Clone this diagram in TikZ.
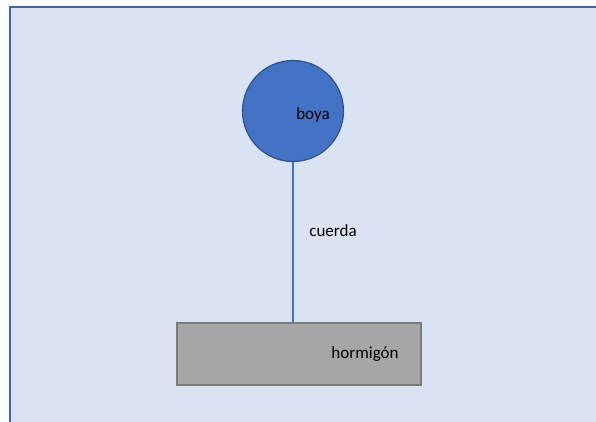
\documentclass[tikz,border=0pt]{standalone}
\usepackage{fontspec}
\setmainfont{Carlito}
\definecolor{bgfill}{HTML}{DAE3F3}
\definecolor{bgline}{HTML}{41639F}
\definecolor{buoyfill}{HTML}{4472C4}
\definecolor{buoyline}{HTML}{2F528F}
\definecolor{blockfill}{HTML}{A6A6A6}
\definecolor{blockline}{HTML}{7A7A7A}
\tikzset{
  lbl/.style={font=\fontsize{17}{20}\selectfont, text=black, inner sep=0pt},
  buoy/.style={circle, fill=buoyfill, draw=buoyline, line width=1.2pt, minimum size=101pt, inner sep=0pt},
  block/.style={rectangle, fill=blockfill, draw=blockline, line width=1.4pt, minimum width=244pt, minimum height=62pt, inner sep=0pt},
  rope/.style={draw=buoyfill, line width=1.3pt}
}
\begin{document}
\begin{tikzpicture}[x=1pt,y=-1pt]
\useasboundingbox (0,0) rectangle (596,421);
\clip (0,0) rectangle (596,421);
\fill[white] (0,0) rectangle (596,421);
\draw[fill=bgfill, draw=bgline, line width=2.4pt] (10.2,7.2) rectangle (610,440);
\node[buoy] (boya) at (293,111) {};
\node[lbl] (boyatext) at (313,115) {boya};
\node[block] (base) at (299,354) {};
\node[lbl] (basetext) at (365,354) {hormigón};
\draw[rope] (boya.south) -- (boya.south |- base.north);
\node[lbl] (cuerda) at (333,231) {cuerda};
\end{tikzpicture}
\end{document}
